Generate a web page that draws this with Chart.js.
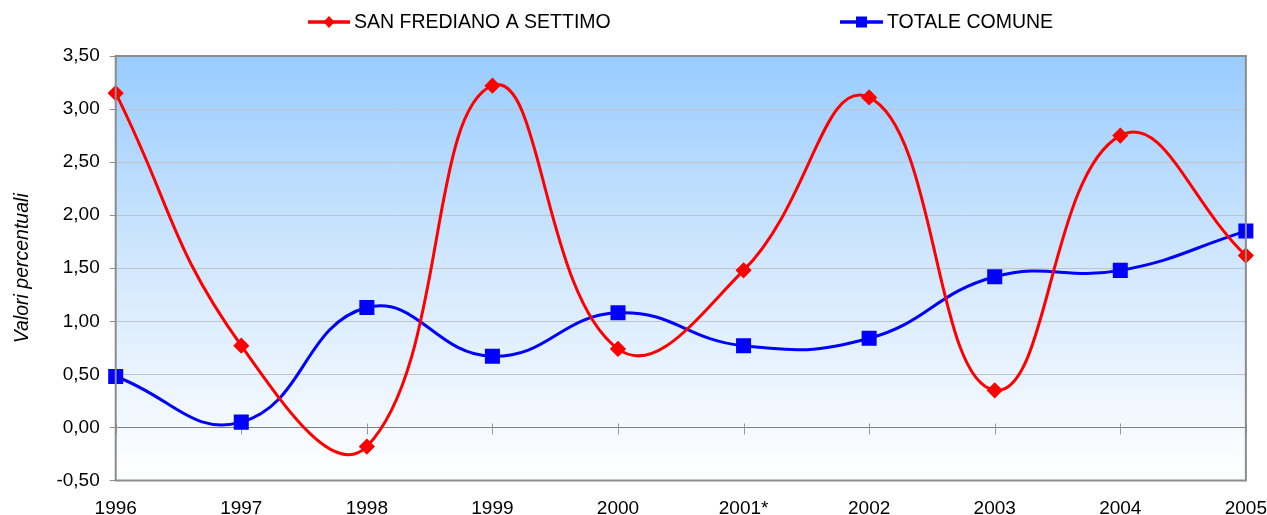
<!DOCTYPE html>
<html>
<head>
<meta charset="utf-8">
<script src="https://cdn.jsdelivr.net/npm/chart.js@4.4.1/dist/chart.umd.min.js"></script>
<style>
  html, body { margin: 0; padding: 0; background: #ffffff; }
  #wrap { width: 1267px; height: 515px; position: relative; }
</style>
</head>
<body>
<div id="wrap"><canvas id="graphCanvas"></canvas></div>
<script>
// data
var years = ["1996", "1997", "1998", "1999", "2000", "2001*", "2002", "2003", "2004", "2005"];
var sanFrediano = [3.15, 0.77, -0.18, 3.22, 0.74, 1.48, 3.11, 0.35, 2.75, 1.62];
var totaleComune = [0.48, 0.05, 1.13, 0.67, 1.08, 0.77, 0.84, 1.42, 1.48, 1.85];
var seriesNames = ["SAN FREDIANO A SETTIMO", "TOTALE COMUNE"];

var FONT = "'Liberation Sans', Arial, sans-serif";

function commaFmt(v) {
    return v.toFixed(2).replace('.', ',');
}

// gradient background, border, zero-line ticks, legend
var plotDecor = {
    id: 'plotDecor',
    beforeDraw: function (chart) {
        var a = chart.chartArea, ctx = chart.ctx;
        ctx.save();
        var g = ctx.createLinearGradient(0, a.top, 0, a.bottom);
        g.addColorStop(0, '#99CCFF');
        g.addColorStop(0.5, '#D3E8FD');
        g.addColorStop(1, '#FFFFFF');
        ctx.fillStyle = g;
        ctx.fillRect(a.left, a.top, a.right - a.left, a.bottom - a.top);
        ctx.restore();
    },
    beforeDatasetsDraw: function (chart) {
        var ctx = chart.ctx;
        var y = chart.scales.y, x = chart.scales.x;
        var y0 = y.getPixelForValue(0);
        ctx.save();
        ctx.strokeStyle = '#999999';
        ctx.lineWidth = 1;
        for (var i = 0; i < years.length; i++) {
            var px = Math.round(x.getPixelForValue(i)) + 0.5;
            ctx.beginPath();
            ctx.moveTo(px, y0 - 4);
            ctx.lineTo(px, y0 + 7);
            ctx.stroke();
        }
        ctx.restore();
    },
    afterDatasetsDraw: function (chart) {
        var a = chart.chartArea, ctx = chart.ctx;
        ctx.save();
        ctx.strokeStyle = '#8c8c8c';
        ctx.lineWidth = 2;
        ctx.strokeRect(a.left, a.top, a.right - a.left, a.bottom - a.top);
        ctx.restore();
    },
    afterDraw: function (chart) {
        var ctx = chart.ctx;
        var items = [
            { x: 308, w: 42, color: '#FF0000', style: 'diamond', text: seriesNames[0] },
            { x: 840, w: 43, color: '#0000FF', style: 'square', text: seriesNames[1] }
        ];
        var ly = 22;
        ctx.save();
        items.forEach(function (it) {
            ctx.strokeStyle = it.color;
            ctx.fillStyle = it.color;
            ctx.lineWidth = 3.5;
            ctx.beginPath();
            ctx.moveTo(it.x, ly);
            ctx.lineTo(it.x + it.w, ly);
            ctx.stroke();
            var cx = it.x + it.w / 2;
            if (it.style === 'diamond') {
                ctx.beginPath();
                ctx.moveTo(cx, ly - 6);
                ctx.lineTo(cx + 5.5, ly);
                ctx.lineTo(cx, ly + 6);
                ctx.lineTo(cx - 5.5, ly);
                ctx.closePath();
                ctx.fill();
            } else {
                ctx.fillRect(cx - 5.5, ly - 5.5, 11, 11);
            }
            ctx.fillStyle = '#000000';
            ctx.font = '19.5px ' + FONT;
            ctx.textBaseline = 'middle';
            ctx.textAlign = 'left';
            ctx.fillText(it.text, it.x + it.w + 4, ly + 1);
        });
        ctx.restore();
    }
};

var chartdata = {
    labels: years,
    datasets: [
        {
            label: seriesNames[0],
            data: sanFrediano,
            borderColor: '#FF0000',
            backgroundColor: '#FF0000',
            borderWidth: 3,
            pointStyle: 'rectRot',
            pointRadius: 6,
            pointHoverRadius: 6,
            tension: 0.45
        },
        {
            label: seriesNames[1],
            data: totaleComune,
            borderColor: '#0000FF',
            backgroundColor: '#0000FF',
            borderWidth: 3,
            pointStyle: 'rect',
            pointRadius: 8.5,
            pointHoverRadius: 8.5,
            tension: 0.45
        }
    ]
};

new Chart(document.getElementById('graphCanvas'), {
    type: 'line',
    data: chartdata,
    plugins: [plotDecor],
    options: {
        responsive: true,
        maintainAspectRatio: false,
        animation: false,
        layout: { padding: { top: 56, right: 0, left: 11, bottom: -3 } },
        plugins: {
            legend: { display: false },
            tooltip: { enabled: false }
        },
        scales: {
            x: {
                offset: false,
                // invisible grid; the tick length only pushes the labels down
                grid: {
                    display: true,
                    drawOnChartArea: false,
                    drawTicks: true,
                    tickLength: 18.5,
                    color: 'rgba(0,0,0,0)',
                    tickColor: 'rgba(0,0,0,0)'
                },
                border: { display: false },
                ticks: {
                    color: '#000000',
                    font: { family: FONT, size: 19, lineHeight: 1 },
                    padding: 0,
                    maxRotation: 0,
                    autoSkip: false
                }
            },
            y: {
                min: -0.5,
                max: 3.5,
                grid: {
                    color: function (c) {
                        return c.tick && c.tick.value === 0 ? '#808080' : '#BEC4CC';
                    },
                    lineWidth: 1,
                    drawTicks: true,
                    tickLength: 6,
                    tickColor: '#8c8c8c'
                },
                border: { display: false },
                title: {
                    display: true,
                    text: 'Valori percentuali',
                    color: '#000000',
                    font: { family: FONT, size: 19.5, style: 'italic', lineHeight: 1.2 },
                    padding: { top: 0, bottom: 12 }
                },
                ticks: {
                    stepSize: 0.5,
                    color: '#000000',
                    font: { family: FONT, size: 19 },
                    padding: 10,
                    callback: function (v) { return commaFmt(v); }
                }
            }
        }
    }
});
</script>
</body>
</html>
